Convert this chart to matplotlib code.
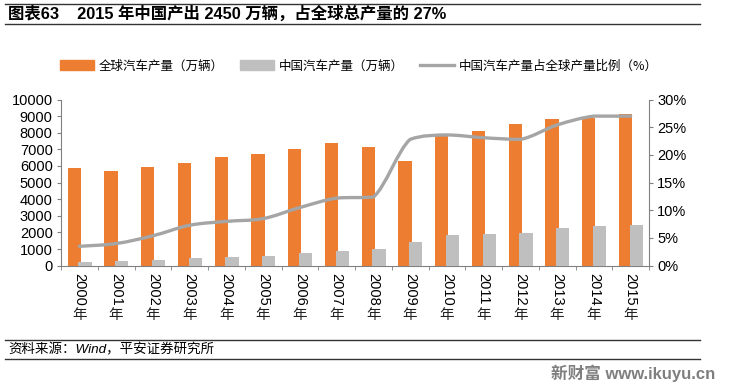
import numpy as np
import matplotlib
matplotlib.use('Agg')
import matplotlib.pyplot as plt
from matplotlib.path import Path
from matplotlib.patches import PathPatch, Patch
from matplotlib.lines import Line2D
from matplotlib.ticker import FuncFormatter

plt.rcParams['font.family'] = ['Liberation Sans', 'Noto Sans CJK SC', 'DejaVu Sans']

years = ['2000', '2001', '2002', '2003', '2004', '2005', '2006', '2007',
         '2008', '2009', '2010', '2011', '2012', '2013', '2014', '2015']
# 全球汽车产量（万辆）
world = [5900, 5700, 5950, 6150, 6550, 6700, 7000, 7400,
         7150, 6300, 7950, 8100, 8550, 8850, 8900, 9150]
# 中国汽车产量（万辆）
china = [230, 260, 360, 470, 530, 590, 750, 910,
         980, 1420, 1860, 1880, 1990, 2240, 2400, 2450]
# 中国占比（%）
share = [3.5, 4.0, 5.4, 7.3, 8.0, 8.5, 10.5, 12.2,
         12.4, 22.8, 23.6, 23.1, 22.8, 25.4, 27.0, 27.0]

ORANGE = '#ED7D31'
GRAY = '#BFBFBF'
LINE = '#A5A5A5'
AXIS = '#808080'


def smooth_path(xs, ys):
    """Smoothed line as cubic bezier segments (no overshoot inside a segment)."""
    n = len(xs)
    pts = np.column_stack([xs, ys]).astype(float)
    verts = [tuple(pts[0])]
    codes = [Path.MOVETO]
    for i in range(n - 1):
        p0 = pts[max(i - 1, 0)]
        p1 = pts[i]
        p2 = pts[i + 1]
        p3 = pts[min(i + 2, n - 1)]
        c1 = p1 + (p2 - p0) / 6.0
        c2 = p2 - (p3 - p1) / 6.0
        lo, hi = min(p1[1], p2[1]), max(p1[1], p2[1])
        c1[1] = np.clip(c1[1], lo, hi)
        c2[1] = np.clip(c2[1], lo, hi)
        verts += [tuple(c1), tuple(c2), tuple(p2)]
        codes += [Path.CURVE4] * 3
    return Path(verts, codes)


fig = plt.figure(figsize=(7.31, 3.87), dpi=100)
ax = fig.add_axes([61 / 731, 1 - 265.7 / 387, 588 / 731, 166.2 / 387])

x = np.arange(len(years))
w = 0.36
ax.bar(x - 0.14, world, w, color=ORANGE, zorder=2)
ax.bar(x + 0.15, china, w, color=GRAY, zorder=3)

ax.set_xlim(-0.5, len(years) - 0.5)
ax.set_ylim(0, 10000)
ax.set_yticks(range(0, 10001, 1000))
ax.set_xticks(x)
ax.set_xticklabels(years, rotation=-90, va='top', ha='center', fontsize=10.5)
ax.set_xticks(np.arange(-0.5, len(years), 1), minor=True)
ax.tick_params(axis='x', which='major', length=0, pad=5)
ax.tick_params(axis='x', which='minor', length=3, color=AXIS, direction='out')
ax.tick_params(axis='y', length=3, color=AXIS, labelsize=10.5, pad=3)

for s in ['top', 'right']:
    ax.spines[s].set_visible(False)
for s in ['left', 'bottom']:
    ax.spines[s].set_color(AXIS)

# 年 stays upright under the rotated digits
for i in x:
    ax.annotate('年', xy=(i, 0), xycoords=('data', 'axes fraction'),
                xytext=(0, -42), textcoords='offset pixels',
                ha='center', va='top', fontsize=10.5,
                family=['Noto Sans CJK SC'], color='#222222')

ax2 = ax.twinx()
ax2.set_ylim(0, 30)
ax2.set_yticks(range(0, 31, 5))
ax2.yaxis.set_major_formatter(FuncFormatter(lambda v, p: '%d%%' % v))
ax2.tick_params(axis='y', length=3, color=AXIS, labelsize=10.5, pad=3)
for s in ['top', 'left', 'bottom']:
    ax2.spines[s].set_visible(False)
ax2.spines['right'].set_color(AXIS)

ax2.add_patch(PathPatch(smooth_path(x, share), facecolor='none',
                        edgecolor=LINE, lw=2.4, zorder=4, capstyle='round'))

handles = [Patch(color=ORANGE), Patch(color=GRAY), Line2D([], [], color=LINE, lw=2.4)]
labels = ['全球汽车产量（万辆）', '中国汽车产量（万辆）', '中国汽车产量占全球产量比例（%）']
fig.legend(handles, labels, loc='center', bbox_to_anchor=(0.491, 1 - 66 / 387),
           ncol=3, frameon=False, handlelength=2.7, handleheight=0.8,
           columnspacing=1.3, handletextpad=0.4,
           prop={'family': ['Noto Sans CJK SC'], 'size': 9})

# title and rules
fig.add_artist(Line2D([5 / 731, 700 / 731], [1 - 3.5 / 387] * 2, color='#333333', lw=1.0))
fig.add_artist(Line2D([5 / 731, 700 / 731], [1 - 24 / 387] * 2, color='#333333', lw=1.0))
fig.text(8 / 731, 1 - 14 / 387, '图表63    2015 年中国产出 2450 万辆，占全球总产量的 27%',
         fontsize=11.8, fontweight='bold', va='center', ha='left')

fig.add_artist(Line2D([5 / 731, 700 / 731], [1 - 340 / 387] * 2, color='#333333', lw=1.0))
fig.add_artist(Line2D([5 / 731, 700 / 731], [1 - 359 / 387] * 2, color='#333333', lw=1.0))
fig.text(8 / 731, 1 - 350 / 387, '资料来源：Wind，平安证券研究所',
         fontsize=9.7, style='italic', va='center', ha='left')

fig.text(715 / 731, 1 - 373 / 387, '新财富 www.ikuyu.cn', fontsize=12,
         fontweight='bold', color='#7F7F7F', va='center', ha='right')

fig.savefig('out.png', dpi=100)
